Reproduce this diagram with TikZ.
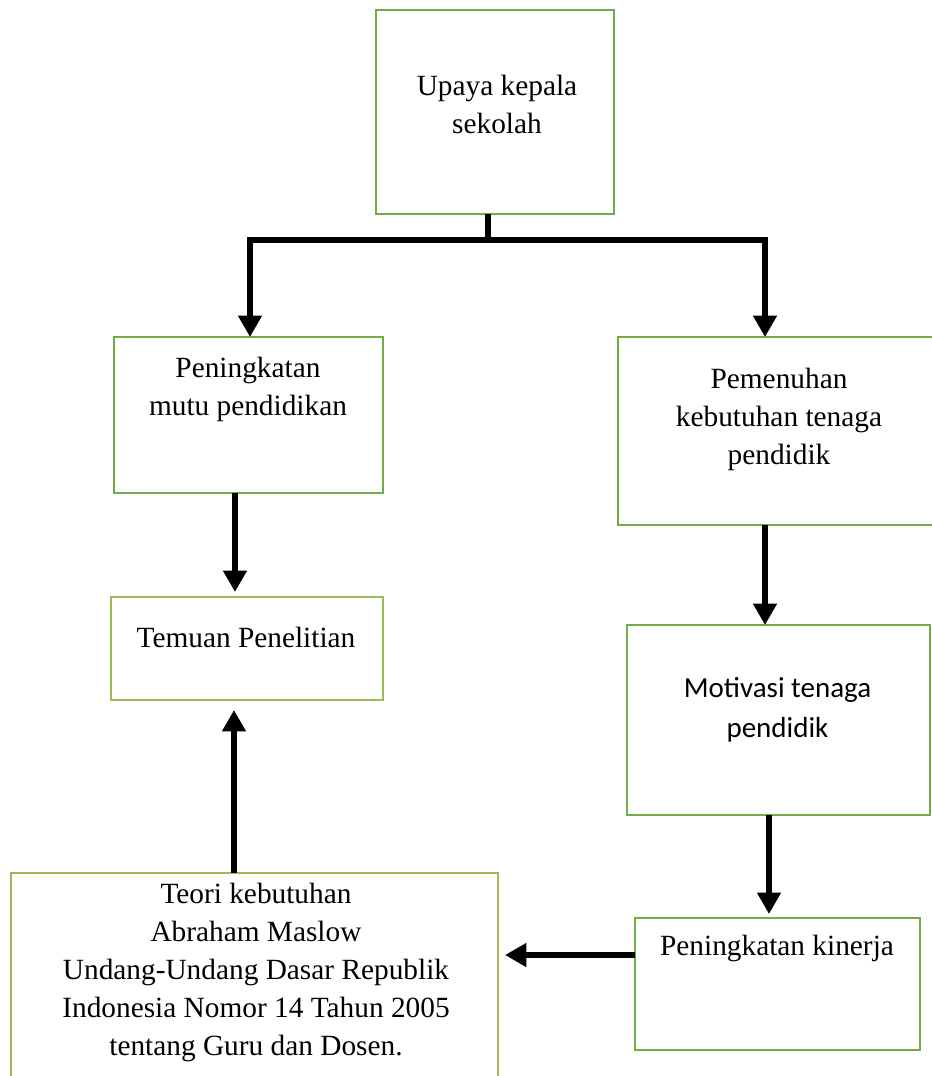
\documentclass[tikz,border=0pt]{standalone}
\usepackage{fontspec}
\setmainfont{Liberation Serif}
\newfontfamily\calfont{Carlito}
\usetikzlibrary{arrows.meta,calc}
\definecolor{boxgreen}{HTML}{70AD47}
\definecolor{boxlime}{HTML}{9BBB59}
\tikzset{
  box/.style 2 args={draw=boxgreen, line width=1.5pt, fill=none, rectangle, inner sep=0pt, outer sep=0pt,
    minimum width=#1*0.75pt, minimum height=#2*0.75pt},
  litebox/.style 2 args={box={#1}{#2}, draw=boxlime, line width=1.2pt},
  txt/.style={align=center, inner sep=0pt, font=\fontsize{22pt}{28.5pt}\selectfont},
  caltxt/.style={align=center, inner sep=0pt, font=\calfont\fontsize{21.75pt}{30pt}\selectfont},
  conn/.style={line width=4.8pt, draw=black},
  arr/.style={conn, -{Triangle[width=17pt,length=16pt]}},
  darr/.style={conn, {Triangle[width=17pt,length=16pt]}-{Triangle[width=17pt,length=16pt]}, line join=miter}
}
\begin{document}
\begin{tikzpicture}[x=0.75pt, y=-0.75pt]
\useasboundingbox (0,0) rectangle (932,1076);
% boxes
\node[box={238}{204}] (b1) at (495,112) {};
\node[box={269}{156}] (b2) at (248.5,415) {};
\node[box={320}{188}] (b3) at (778,431) {};
\node[litebox={272}{103}] (b4) at (247,648.5) {};
\node[box={303}{190}] (b5) at (778.5,720) {};
\node[litebox={487}{217}] (b6) at (254.5,981.5) {};
\node[box={285}{132}] (b7) at (777,984) {};
% texts
\node[txt] (t1) at (497,104) {Upaya kepala\\sekolah};
\node[txt] (t2) at (248,389) {Peningkatan\\mutu pendidikan};
\node[txt] (t3) at (779,419) {Pemenuhan\\kebutuhan tenaga\\pendidik};
\node[txt] (t4) at (246,637) {Temuan Penelitian};
\node[caltxt] (t5) at (777.5,710) {Motivasi tenaga\\pendidik};
\node[txt] (t6) at (256,972) {Teori kebutuhan\\Abraham Maslow\\Undang-Undang Dasar Republik\\Indonesia Nomor 14 Tahun 2005\\tentang Guru dan Dosen.};
\node[txt] (t7) at (777,948) {Peningkatan kinerja};
% connectors
\coordinate (js) at (488,240);
\coordinate (jl) at (250,240);
\coordinate (jr) at (765,240);
\draw[conn] ($(b1.south)+(-7,0)$) -- (js);
\draw[darr] (jl |- b2.north) -- (jl) -- (jr) -- (jr |- b3.north);
\draw[arr] ($(b2.south)+(-13.5,0)$) -- ($(b4.north)+(-12,-5)$);
\draw[arr] ($(b3.south)+(-13,0)$) -- ($(b5.north)+(-13.5,0)$);
\draw[arr] ($(b5.south)+(-9.5,0)$) -- ($(b7.north)+(-8,-4)$);
\draw[arr] ($(b6.north)+(-20.5,0)$) -- ($(b4.south)+(-13,10)$);
\draw[arr] ($(b7.west)+(0,-29)$) -- ($(b6.east)+(7,-26.5)$);
\end{tikzpicture}
\end{document}
